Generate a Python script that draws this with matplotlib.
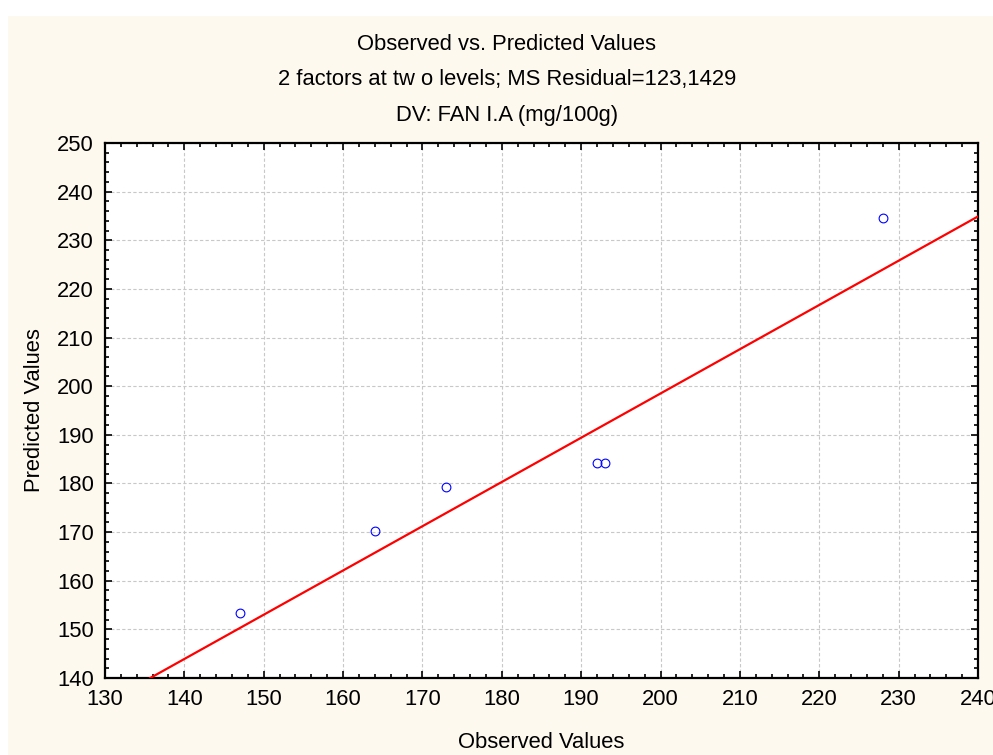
import matplotlib.pyplot as plt
from matplotlib.patches import Rectangle
from matplotlib.ticker import MultipleLocator

plt.rcParams['font.family'] = ['Liberation Sans', 'DejaVu Sans']

# observed vs predicted points
observed = [147, 164, 173, 192, 193, 228]
predicted = [153.3, 170.2, 179.2, 184.2, 184.2, 234.5]

# fitted line end points
line_x = [135.7, 240]
line_y = [140, 234.9]

x_ticks = list(range(130, 241, 10))
y_ticks = list(range(140, 251, 10))

W, H = 993, 755
fig = plt.figure(figsize=(W / 100, H / 100), dpi=100)
fig.patch.set_facecolor('white')
fig.patches.append(Rectangle((8 / W, 0), 1 - 8 / W, 1 - 16 / H, transform=fig.transFigure,
                             facecolor='#fdf9ef', edgecolor='none', zorder=-10))

ax = fig.add_axes([105 / W, 1 - 678 / H, 873 / W, 535 / H])
ax.set_zorder(1)
ax.set_facecolor('white')

ax.plot(line_x, line_y, color='#ff0000', linewidth=1.6, zorder=3)
ax.plot(observed, predicted, linestyle='none', marker='o', markersize=6.3,
        markerfacecolor='none', markeredgecolor='#0000ff', markeredgewidth=0.8, zorder=4)

ax.set_xlim(130, 240)
ax.set_ylim(140, 250)
ax.set_xticks(x_ticks)
ax.set_yticks(y_ticks)
ax.xaxis.set_minor_locator(MultipleLocator(2))
ax.yaxis.set_minor_locator(MultipleLocator(2))
ax.tick_params(which='both', direction='in', top=True, right=True, width=1.2, color='black')
ax.tick_params(which='major', length=5, labelsize=15.8, pad=8)
ax.tick_params(which='minor', length=3)
ax.grid(which='major', color='#c8c8c8', linestyle=(0, (3, 2)), linewidth=0.8)
for s in ax.spines.values():
    s.set_linewidth(1.6)
    s.set_color('black')

fig.text(507 / W, 1 - 44 / H, 'Observed vs. Predicted Values', ha='center', va='center', fontsize=15.8)
fig.text(507 / W, 1 - 80 / H, '2 factors at tw o levels; MS Residual=123,1429', ha='center', va='center', fontsize=15.8)
fig.text(507 / W, 1 - 115 / H, 'DV: FAN I.A (mg/100g)', ha='center', va='center', fontsize=15.8)
fig.text(541 / W, 1 - 742 / H, 'Observed Values', ha='center', va='center', fontsize=15.8)
fig.text(35 / W, 1 - 410 / H, 'Predicted Values', ha='center', va='center', rotation=90, fontsize=15.8)

fig.savefig('out.png', dpi=100)
